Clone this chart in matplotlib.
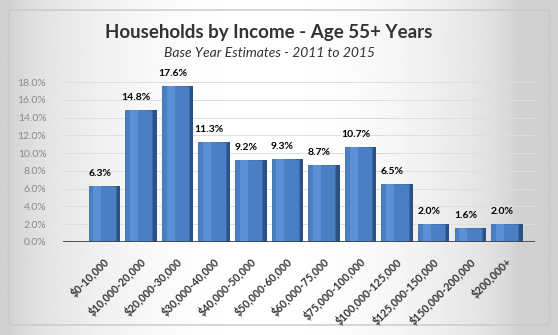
import numpy as np
import matplotlib
matplotlib.use("Agg")
import matplotlib.pyplot as plt
import matplotlib.transforms as mtransforms
from matplotlib.patches import FancyBboxPatch

categories = ["$0-10,000", "$10,000-20,000", "$20,000-30,000", "$30,000-40,000",
              "$40,000-50,000", "$50,000-60,000", "$60,000-75,000", "$75,000-100,000",
              "$100,000-125,000", "$125,000-150,000", "$150,000-200,000", "$200,000+"]
shares = [6.3, 14.8, 17.6, 11.3, 9.2, 9.3, 8.7, 10.7, 6.5, 2.0, 1.6, 2.0]
yticks = [0, 2, 4, 6, 8, 10, 12, 14, 16, 18]

plt.rcParams["font.family"] = ["Lato", "DejaVu Sans"]

fig = plt.figure(figsize=(5.58, 3.35), dpi=100)
fig.patch.set_facecolor("white")

# background gradient panel
bg = fig.add_axes([0, 0, 1, 1], zorder=0)
gx = np.linspace(0, 1, 300)
grad = 0.82 + 0.18 * np.sin(np.pi * np.clip(gx * 1.1 - 0.02, 0, 1)) ** 0.6
bg.imshow(np.tile(grad, (10, 1)), cmap="gray", vmin=0, vmax=1, aspect="auto",
          extent=[0, 1, 0, 1])
bg.add_patch(FancyBboxPatch((0.015, 0.03), 0.97, 0.94, boxstyle="round,pad=0,rounding_size=0.01",
                            fill=False, edgecolor="#c8c8c8", lw=1.0, transform=bg.transAxes))
bg.set_xlim(0, 1)
bg.set_ylim(0, 1)
bg.axis("off")

fig.text(0.482, 0.903, "Households by Income - Age 55+ Years", ha="center", va="center",
         fontsize=13.5, fontweight="bold", color="#333333")
fig.text(0.482, 0.842, "Base Year Estimates - 2011 to 2015", ha="center", va="center",
         fontsize=10, style="italic", color="#333333")

ax = fig.add_axes([0.113, 0.278, 0.846, 0.477], zorder=1)
ax.patch.set_alpha(0)
x = np.arange(len(categories))

# gridlines
for t in yticks[1:]:
    ax.axhline(t, color="#dedede", lw=0.7, zorder=0)

# side faces then front faces for a pseudo 3D look
ax.bar(x + 0.36, shares, width=0.2, color="#2a5286", zorder=2)
ax.bar(x - 0.03, shares, width=0.74, color="#4a7fc4", edgecolor="#3b6aa8", lw=0.6, zorder=3)
ax.bar(x - 0.16, shares, width=0.22, color="#5b90d4", zorder=4)

ax.axhline(0, color="#444444", lw=2.0, zorder=5)

for xi, v in zip(x, shares):
    ax.annotate(f"{v:.1f}%", (xi - 0.1, v), xytext=(0, 9), textcoords="offset points",
                ha="center", va="center", fontsize=7.5, fontweight="bold", color="black",
                annotation_clip=False)

ax.set_xlim(-1.1, 11.8)
ax.set_ylim(0, 18)
ax.set_yticks(yticks)
ax.set_yticklabels([f"{t:.1f}%" for t in yticks], fontsize=7.5, color="#8a8a8a")
ax.set_xticks(x)
ax.set_xticklabels(categories, rotation=45, ha="right", rotation_mode="anchor",
                   fontsize=7.6, fontweight="bold", color="#333333")
shift = mtransforms.ScaledTranslation(-18 / 100, 0, fig.dpi_scale_trans)
for lbl in ax.get_xticklabels():
    lbl.set_transform(lbl.get_transform() + shift)
ax.tick_params(axis="both", length=0)
ax.tick_params(axis="y", pad=12)
ax.tick_params(axis="x", pad=10)
for s in ax.spines.values():
    s.set_visible(False)

fig.savefig("out.png", dpi=100)
